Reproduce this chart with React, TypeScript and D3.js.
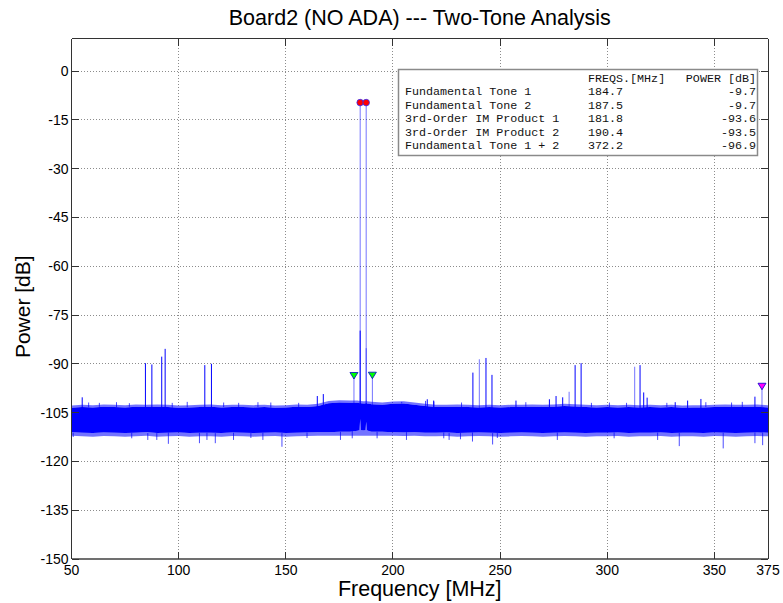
import React from 'react';
import * as d3 from 'd3';

// axis ticks
const xTicks = [50, 100, 150, 200, 250, 300, 350, 375];
const yTicks = [-150, -135, -120, -105, -90, -75, -60, -45, -30, -15, 0];

// summary table
const tableNames = [
  'Fundamental Tone 1',
  'Fundamental Tone 2',
  '3rd-Order IM Product 1',
  '3rd-Order IM Product 2',
  'Fundamental Tone 1 + 2',
];
const tableFreqs = [184.7, 187.5, 181.8, 190.4, 372.2];
const tablePowers = [-9.7, -9.7, -93.6, -93.5, -96.9];

// noise floor envelope (MHz / dB)
const envFreqs = [50, 55, 60, 65, 70, 75, 80, 85, 90, 95, 100, 105, 110, 115, 120, 125, 130, 135, 140, 145, 150, 155, 160, 165, 170, 175, 180,
  183.5, 184.4, 184.7, 185.0, 186.2, 187.2, 187.5, 187.8, 189,
  190, 195, 200, 205, 210, 215, 220, 225, 230, 235, 240, 245, 250, 255, 260, 265, 270, 275, 280, 285, 290, 295, 300, 305, 310, 315, 320, 325, 330, 335, 340, 345, 350, 355, 360, 365, 370, 375];
const envTop = [-103.5, -103.3, -103.4, -103.2, -103.3, -103.4, -103.2, -103.3, -103.2, -103.3, -103.5, -103.4, -103.3, -103.2, -103.4, -103.3, -103.3, -103.4, -103.3, -103.5, -103.4, -103.2, -103.3, -103.0, -102.1, -101.9, -102.0,
  -102.0, -102.1, -101.8, -102.1, -102.2, -102.2, -101.9, -102.2, -102.3,
  -102.4, -102.6, -102.3, -102.2, -102.6, -103.0, -103.3, -103.3, -103.2, -103.3, -103.4, -103.3, -103.4, -103.3, -103.3, -103.2, -103.3, -103.2, -103.0, -103.1, -103.3, -103.4, -103.3, -103.4, -103.3, -103.4, -103.3, -103.4, -103.3, -103.5, -103.4, -103.4, -103.3, -103.2, -103.3, -103.3, -103.2, -103.4];
const envBottom = [-111.0, -111.2, -111.3, -111.1, -111.2, -111.3, -111.2, -111.0, -111.3, -111.2, -111.1, -111.3, -111.2, -111.2, -111.3, -111.1, -111.2, -111.3, -111.2, -111.1, -111.3, -111.2, -111.1, -111.0, -111.0, -110.9, -110.9,
  -110.6, -110.4, -107.0, -110.4, -110.5, -110.4, -107.8, -110.4, -110.7,
  -110.9, -110.9, -111.0, -111.1, -111.0, -111.2, -111.2, -111.1, -111.3, -111.2, -111.1, -111.2, -111.3, -111.2, -111.1, -111.2, -111.3, -111.2, -111.1, -111.2, -111.3, -111.2, -111.2, -111.1, -111.3, -111.2, -111.2, -111.1, -111.3, -111.2, -111.2, -111.3, -111.1, -111.2, -111.3, -111.2, -111.1, -111.2];

// noise outliers sticking out of the floor
const upSpikeFreqs = [58, 63, 71, 77, 97, 104, 121, 128, 137, 143, 156, 204.1, 215.2, 219.1, 232, 262, 292.6, 301, 309, 327.8, 346, 358, 363];
const upSpikeVals = [-101.9, -102.0, -101.8, -102.1, -102.0, -101.7, -101.9, -102.0, -101.8, -101.9, -102.0, -101.7, -101.4, -101.6, -101.9, -101.8, -102.0, -101.9, -102.0, -102.0, -101.8, -101.9, -101.7];
const downSpikeFreqs = [50.8, 78.1, 85.6, 89.8, 95.2, 109.7, 113.2, 117.1, 125.6, 133.7, 139.3, 148.2, 159.9, 175.5, 181, 192.6, 206.3, 223.7, 226.2, 231.5, 237.1, 246.5, 248.7, 276.7, 303.2, 323.5, 333.6, 354.1, 368.9, 372.5];
const downSpikeVals = [-112.5, -112.9, -113.4, -113.4, -114.6, -114.4, -113.4, -114.4, -113.4, -112.8, -113.4, -115.5, -112.8, -113.4, -112.9, -112.9, -113.4, -112.9, -113.4, -113.2, -113.9, -114.8, -112.8, -113.4, -112.9, -113.4, -115.3, -116.0, -114.4, -115.0];

// discrete spurs (MHz / peak dB)
const spurFreqs = [55.0, 84.5, 87.5, 92.1, 93.7, 112.2, 115.3, 164.7, 167.5, 181.8, 184.7, 184.7, 187.5, 187.5, 190.4,
  216, 219, 237.3, 240.3, 243.4, 246.2, 257.4, 273, 276.1, 279.2, 282.2, 285, 287.8, 312.8, 315.3, 317, 318.6, 331.7, 337.5, 343.7, 368.9, 372.2];
const spurPeaks = [-100.3, -89.8, -90.2, -87.8, -85.4, -90.4, -90.0, -99.9, -99.3, -93.6, -9.7, -79.8, -9.7, -85.2, -93.5,
  -100.9, -101.3, -92.7, -88.6, -88.2, -93.4, -101.3, -100.9, -99.9, -100.3, -98.6, -90.4, -89.8, -90.9, -90.4, -98.8, -100.4, -101.8, -101.3, -100.8, -100.1, -96.9];
// spurs that show up pale (thin line between pixels)
const paleSpurs = [181.8, 187.5, 190.4, 240.3, 282.2, 312.8, 372.2];

const W = 783;
const H = 603;
const sans = 'Liberation Sans, Arial, Helvetica, sans-serif';
const mono = 'Liberation Mono, Courier New, monospace';
const BLUE = '#0000ff';

export default function App() {
  const x = d3.scaleLinear().domain([50, 375]).range([71.5, 768]);
  const y = d3.scaleLinear().domain([-150, 10]).range([559, 38.5]);
  const [x0, x1] = x.range();
  const [y0, y1] = y.range();

  const env = envFreqs.map((f, i) => ({ f, top: envTop[i], bot: envBottom[i] }));
  const core = d3.area<any>().x(d => x(d.f)).y0(d => y(d.bot)).y1(d => y(d.top))(env);
  const upperFringe = d3.area<any>().x(d => x(d.f)).y0(d => y(d.top)).y1(d => y(d.top + 0.7))(env);
  const lowerFringe = d3.area<any>().x(d => x(d.f)).y0(d => y(d.bot)).y1(d => y(Math.min(d.bot - 1.1, -112.1)))(env);

  // floor level at a frequency, for the foot of a spur
  const floorAt = (f: number) => {
    const i = d3.bisectLeft(envFreqs, f);
    return envTop[Math.min(i, envTop.length - 1)];
  };
  const bottomAt = (f: number) => {
    const i = d3.bisectLeft(envFreqs, f);
    return envBottom[Math.min(i, envBottom.length - 1)];
  };

  const tri = (cx: number, cy: number) =>
    `M${cx - 4},${cy - 3} L${cx + 4},${cy - 3} L${cx},${cy + 3.5} Z`;

  const rowY = (i: number) => 95 + i * 13.55;

  return (
    <svg width={W} height={H} style={{ position: 'absolute', left: 0, top: 0, background: '#fff' }}>
      <rect x={0} y={0} width={W} height={H} fill="#fff" />

      {/* grid */}
      <g stroke="#8c8c8c" strokeWidth={1} strokeDasharray="1,2" shapeRendering="crispEdges">
        {xTicks.filter(t => t > 50 && t < 375).map(t => (
          <line key={'gx' + t} x1={x(t)} x2={x(t)} y1={y0} y2={y1} />
        ))}
        {yTicks.filter(t => t > -150).map(t => (
          <line key={'gy' + t} x1={x0} x2={x1} y1={y(t)} y2={y(t)} />
        ))}
      </g>

      {/* noise floor */}
      <path d={upperFringe || ''} fill={BLUE} opacity={0.55} />
      <path d={lowerFringe || ''} fill={BLUE} opacity={0.55} />
      <path d={core || ''} fill={BLUE} />
      <g stroke={BLUE} strokeWidth={1} opacity={0.7}>
        {upSpikeFreqs.map((f, i) => (
          <line key={'u' + i} x1={x(f)} x2={x(f)} y1={y(floorAt(f))} y2={y(upSpikeVals[i])} />
        ))}
        {downSpikeFreqs.map((f, i) => (
          <line key={'d' + i} x1={x(f)} x2={x(f)} y1={y(bottomAt(f))} y2={y(downSpikeVals[i])} />
        ))}
      </g>

      {/* spurs */}
      <g strokeWidth={1}>
        {spurFreqs.map((f, i) => (
          <line
            key={'s' + i}
            x1={x(f)}
            x2={x(f)}
            y1={y(floorAt(f)) + 2}
            y2={y(spurPeaks[i])}
            stroke={BLUE}
            strokeOpacity={paleSpurs.includes(f) || spurPeaks[i] === -9.7 ? 0.55 : 1}
          />
        ))}
      </g>

      {/* markers */}
      {tableFreqs.map((f, i) =>
        i < 2 ? (
          <circle key={'m' + i} cx={x(f)} cy={y(tablePowers[i])} r={3.3} fill="#ff0000" stroke="#3030ff" strokeWidth={0.8} />
        ) : (
          <path key={'m' + i} d={tri(x(f), y(tablePowers[i]))} fill={i < 4 ? '#00ff00' : '#ff00ff'} stroke="#0000cc" strokeWidth={0.8} />
        )
      )}

      {/* axes box */}
      <g shapeRendering="crispEdges">
        <line x1={x0} x2={x1} y1={y0} y2={y0} stroke="#707070" strokeWidth={1.5} />
        <line x1={x0} x2={x1} y1={y1} y2={y1} stroke="#333" strokeWidth={1} />
        <line x1={x0} x2={x0} y1={y0} y2={y1} stroke="#333" strokeWidth={1} />
        <line x1={x1} x2={x1} y1={y0} y2={y1} stroke="#333" strokeWidth={1} />
        {xTicks.map(t => (
          <g key={'tx' + t} stroke="#333">
            <line x1={x(t)} x2={x(t)} y1={y0} y2={y0 - 7} />
            <line x1={x(t)} x2={x(t)} y1={y1} y2={y1 + 7} />
          </g>
        ))}
        {yTicks.map(t => (
          <g key={'ty' + t} stroke="#333">
            <line x1={x0} x2={x0 + 7} y1={y(t)} y2={y(t)} />
            <line x1={x1} x2={x1 - 7} y1={y(t)} y2={y(t)} />
          </g>
        ))}
      </g>

      {/* tick labels */}
      <g fontFamily={sans} fontSize={14} fill="#000">
        {xTicks.map(t => (
          <text key={'lx' + t} x={x(t)} y={574.5} textAnchor="middle">{t}</text>
        ))}
        {yTicks.map(t => (
          <text key={'ly' + t} x={x0 - 3} y={y(t) + 5} textAnchor="end">{t}</text>
        ))}
      </g>

      {/* table */}
      <rect x={398.5} y={69.5} width={359} height={86} fill="#fff" stroke="#8a8a8a" strokeWidth={1.5} />
      <g fontFamily={mono} fontSize={11.7} fill="#111">
        <text x={588} y={81.5}>FREQS.[MHz]</text>
        <text x={756} y={81.5} textAnchor="end">POWER [dB]</text>
        {tableNames.map((n, i) => (
          <g key={'r' + i}>
            <text x={405} y={rowY(i)}>{n}</text>
            <text x={588} y={rowY(i)}>{tableFreqs[i].toFixed(1)}</text>
            <text x={756} y={rowY(i)} textAnchor="end">{tablePowers[i].toFixed(1)}</text>
          </g>
        ))}
      </g>

      {/* titles */}
      <text x={(x0 + x1) / 2} y={25} textAnchor="middle" fontFamily={sans} fontSize={21.5}>
        Board2 (NO ADA) --- Two-Tone Analysis
      </text>
      <text x={(x0 + x1) / 2} y={596} textAnchor="middle" fontFamily={sans} fontSize={21.5}>
        Frequency [MHz]
      </text>
      <text transform={`translate(30,${(y0 + y1) / 2 + 8}) rotate(-90)`} textAnchor="middle" fontFamily={sans} fontSize={21}>
        Power [dB]
      </text>
    </svg>
  );
}
